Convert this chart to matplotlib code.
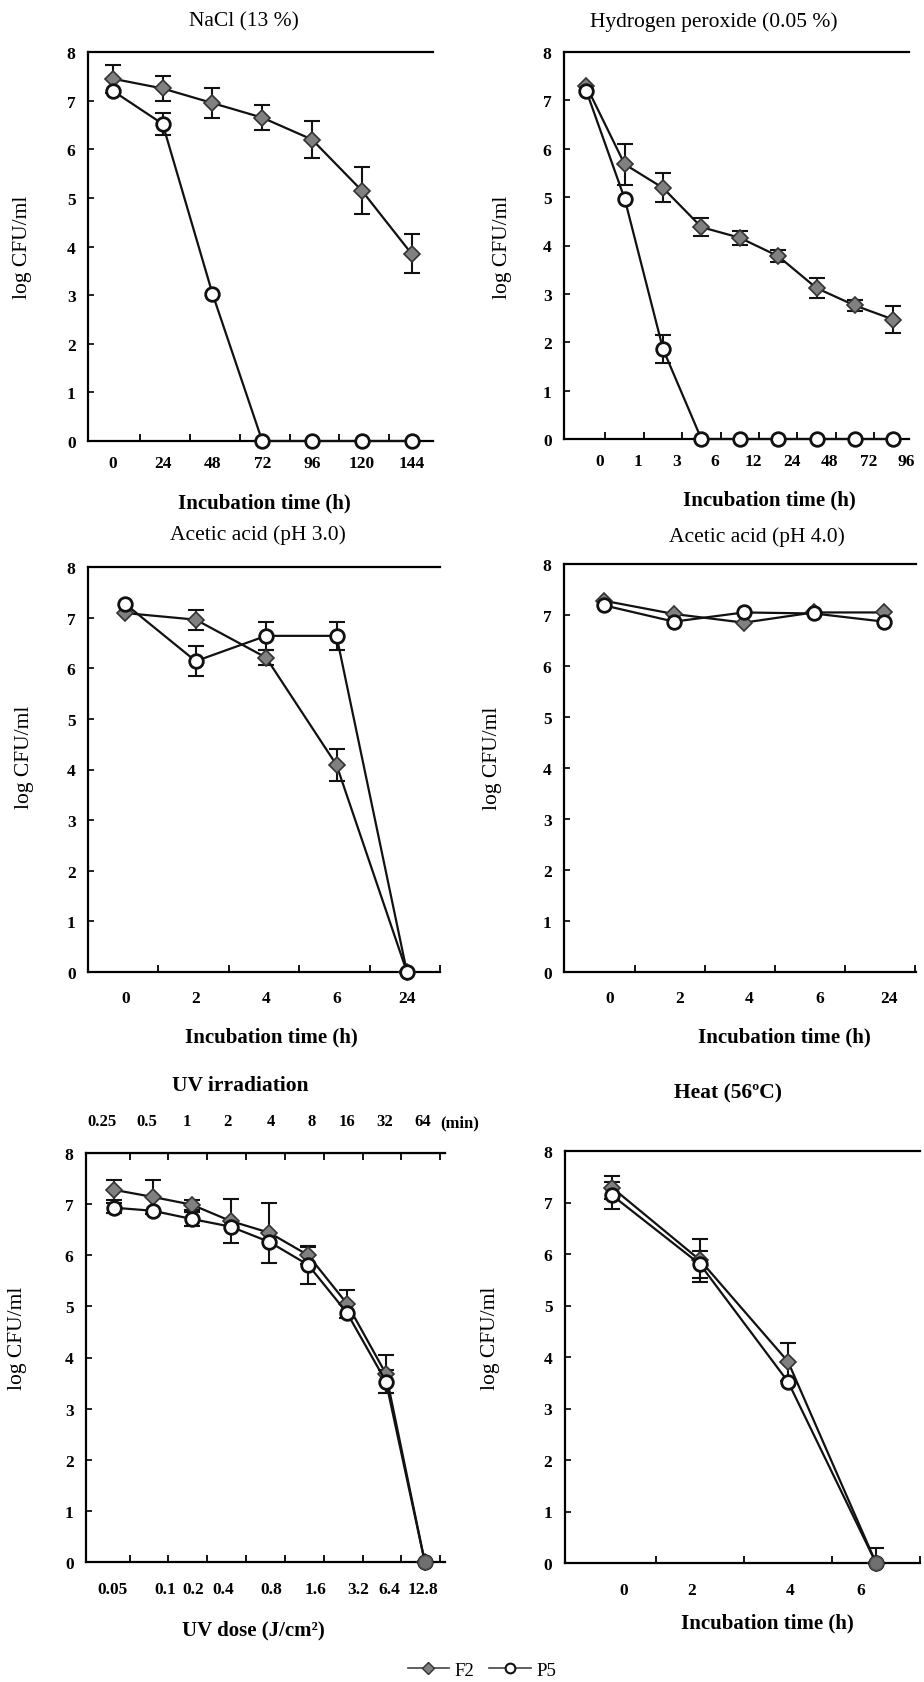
import numpy as np
import matplotlib
matplotlib.use("Agg")
import matplotlib.pyplot as plt
from matplotlib.lines import Line2D

plt.rcParams['font.family'] = ['Liberation Serif', 'DejaVu Serif']

# ---- data (log CFU/ml) ----
# NaCl (13 %)
nacl_time = ['0', '24', '48', '72', '96', '120', '144']
nacl_f2 = [7.45, 7.25, 6.95, 6.65, 6.2, 5.15, 3.85]
nacl_f2_err = [0.29, 0.25, 0.3, 0.26, 0.38, 0.48, 0.4]
nacl_p5 = [7.2, 6.52, 3.03, 0, 0, 0, 0]
nacl_p5_err = [0, 0.23, 0, 0, 0, 0, 0]

# Hydrogen peroxide (0.05 %)
h2o2_time = ['0', '1', '3', '6', '12', '24', '48', '72', '96']
h2o2_f2 = [7.3, 5.68, 5.19, 4.38, 4.16, 3.78, 3.12, 2.76, 2.47]
h2o2_f2_err = [0, 0.42, 0.3, 0.19, 0.15, 0.12, 0.2, 0.12, 0.27]
h2o2_p5 = [7.2, 4.97, 1.86, 0, 0, 0, 0, 0, 0]
h2o2_p5_err = [0, 0, 0.28, 0, 0, 0, 0, 0, 0]

# Acetic acid (pH 3.0)
ph3_time = ['0', '2', '4', '6', '24']
ph3_f2 = [7.09, 6.96, 6.21, 4.09, 0]
ph3_f2_err = [0, 0.2, 0.15, 0.32, 0]
ph3_p5 = [7.27, 6.14, 6.64, 6.64, 0]
ph3_p5_err = [0, 0.29, 0.27, 0.27, 0]

# Acetic acid (pH 4.0)
ph4_time = ['0', '2', '4', '6', '24']
ph4_f2 = [7.28, 7.02, 6.85, 7.05, 7.05]
ph4_p5 = [7.19, 6.87, 7.05, 7.03, 6.87]

# UV irradiation
uv_min = ['0.25', '0.5', '1', '2', '4', '8', '16', '32', '64']
uv_dose = ['0.05', '0.1', '0.2', '0.4', '0.8', '1.6', '3.2', '6.4', '12.8']
uv_f2 = [7.28, 7.14, 6.99, 6.67, 6.44, 6.0, 5.05, 3.68, 0]
uv_f2_err = [0.2, 0.34, 0.1, 0.43, 0.59, 0.17, 0.27, 0.37, 0]
uv_p5 = [6.93, 6.87, 6.71, 6.56, 6.26, 5.81, 4.87, 3.53, 0]
uv_p5_err = [0.1, 0, 0.14, 0, 0, 0.38, 0, 0.23, 0]

# Heat (56ºC)
heat_time = [0, 2, 4, 6]
heat_f2 = [7.29, 5.88, 3.91, 0]
heat_f2_err = [0.22, 0.42, 0.37, 0.3]
heat_p5 = [7.14, 5.80, 3.52, 0]
heat_p5_err = [0.26, 0.26, 0, 0]

# tick-label placement as printed (slightly irregular in the original)
uv_min_pos = [-0.31, 0.85, 1.88, 2.93, 4.04, 5.1, 6.0, 6.98, 7.95]
uv_dose_pos = [-0.05, 1.31, 2.03, 2.81, 4.04, 5.2, 6.28, 7.08, 7.95]
heat_label_pos = [0.27, 1.8, 4.05, 5.65]

W, H = 924, 1683
fig = plt.figure(figsize=(W / 100, H / 100), dpi=100)


def add_ax(left, right, top, bottom):
    return fig.add_axes([left / W, 1 - bottom / H, (right - left) / W, (bottom - top) / H])


def style(ax, xlim, minor, xpad):
    ax.set_xlim(*xlim)
    ax.set_ylim(0, 8)
    ax.set_yticks(range(9))
    ax.spines['right'].set_visible(False)
    for s in ['top', 'left', 'bottom']:
        ax.spines[s].set_linewidth(1.6)
    ax.tick_params(axis='y', direction='in', length=4, width=1.2, pad=9)
    ax.tick_params(axis='x', which='major', length=0, pad=xpad)
    ax.set_xticks(minor, minor=True)
    ax.tick_params(axis='x', which='minor', direction='in', length=5, width=1.3)
    for lab in ax.get_yticklabels() + ax.get_xticklabels():
        lab.set_fontsize(12.5)
        lab.set_fontweight('bold')


def errbars(ax, x, y, err):
    x = np.asarray(x, float)
    y = np.asarray(y, float)
    err = np.asarray(err, float)
    m = err > 0
    if m.any():
        ax.errorbar(x[m], y[m], yerr=err[m], fmt='none', ecolor='#111111',
                    elinewidth=1.5, capsize=5.5, capthick=1.5, zorder=2)


def draw(ax, x, f2, f2e, p5, p5e):
    if f2e is not None:
        errbars(ax, x, f2, f2e)
    if p5e is not None:
        errbars(ax, x, p5, p5e)
    ax.plot(x, f2, '-', color='#111111', lw=1.6, marker='D', ms=8.5,
            mfc='#808080', mec='#333333', mew=1.2, zorder=3, clip_on=False)
    ax.plot(x, p5, '-', color='#111111', lw=1.6, marker='o', ms=9.8,
            mfc='white', mec='#111111', mew=2.0, zorder=4, clip_on=False)


def txt(x, y, s, size=15.5, **kw):
    fig.text(x / W, 1 - y / H, s, ha='center', va='center', fontsize=size, **kw)


ylab = 'log CFU/ml'
xlab = 'Incubation time (h)'

# Panel 1: NaCl
ax = add_ax(88, 433, 53, 442)
x = np.arange(len(nacl_time))
draw(ax, x, nacl_f2, nacl_f2_err, nacl_p5, nacl_p5_err)
ax.set_xticks(x, nacl_time)
style(ax, (-0.5, len(x) - 0.57), x[:-1] + 0.55, 10)
txt(244, 22, 'NaCl (13 %)')
txt(264, 503, xlab, 15, fontweight='bold')
txt(23, 247, ylab, rotation=90)

# Panel 2: H2O2
ax = add_ax(564, 909, 53, 440)
x = np.arange(len(h2o2_time))
draw(ax, x, h2o2_f2, h2o2_f2_err, h2o2_p5, h2o2_p5_err)
ax.set_xticks(x + 0.35, h2o2_time)
style(ax, (-0.58, len(x) - 0.59), x[:-1] + 0.5, 10)
txt(714, 22, 'Hydrogen peroxide (0.05 %)')
txt(769, 500, xlab, 15, fontweight='bold')
txt(502, 247, ylab, rotation=90)

# Panel 3: Acetic acid pH 3.0
ax = add_ax(88, 440, 568, 973)
x = np.arange(len(ph3_time))
draw(ax, x, ph3_f2, ph3_f2_err, ph3_p5, ph3_p5_err)
ax.set_xticks(x, ph3_time)
style(ax, (-0.53, len(x) - 0.56), x + 0.47, 13)
txt(258, 535, 'Acetic acid (pH 3.0)')
txt(271, 1037, xlab, 15, fontweight='bold')
txt(25, 757, ylab, rotation=90)

# Panel 4: Acetic acid pH 4.0
ax = add_ax(564, 916, 565, 973)
x = np.arange(len(ph4_time))
draw(ax, x, ph4_f2, None, ph4_p5, None)
ax.set_xticks(x + 0.08, ph4_time)
style(ax, (-0.57, len(x) - 0.54), x + 0.44, 13)
txt(757, 537, 'Acetic acid (pH 4.0)')
txt(784, 1037, xlab, 15, fontweight='bold')
txt(493, 758, ylab, rotation=90)

# Panel 5: UV irradiation
ax = add_ax(86, 445, 1154, 1563)
x = np.arange(len(uv_dose))
draw(ax, x, uv_f2, uv_f2_err, uv_p5, uv_p5_err)
ax.plot(x[-1], uv_f2[-1], 'o', ms=9.8, mfc='#707070', mec='#505050', zorder=5, clip_on=False)
ax.set_xticks(uv_dose_pos, uv_dose)
style(ax, (-0.72, 8.52), x + 0.4, 14)
top = ax.secondary_xaxis('top')
top.set_xticks(uv_min_pos, uv_min)
top.set_xticks(x + 0.4, minor=True)
top.tick_params(which='major', length=0, pad=17)
top.tick_params(which='minor', direction='in', length=5, width=1.3)
for lab in top.get_xticklabels():
    lab.set_fontsize(12)
    lab.set_fontweight('bold')
ax.text(1.042, 1.076, '(min)', transform=ax.transAxes, ha='center', va='center',
        fontsize=12, fontweight='bold')
txt(240, 1086, 'UV irradiation', fontweight='bold')
txt(253, 1630, 'UV dose (J/cm²)', 15, fontweight='bold')
txt(18, 1338, ylab, rotation=90)

# Panel 6: Heat
ax = add_ax(565, 920, 1152, 1564)
x = np.asarray(heat_time, float)
draw(ax, x, heat_f2, heat_f2_err, heat_p5, heat_p5_err)
ax.plot(x[-1], heat_f2[-1], 'o', ms=9.8, mfc='#707070', mec='#505050', zorder=5, clip_on=False)
ax.set_xticks(heat_label_pos, [str(t) for t in heat_time])
style(ax, (-1.07, 6.98), x + 1, 14)
txt(728, 1093, 'Heat (56ºC)', fontweight='bold')
txt(767, 1623, xlab, 15, fontweight='bold')
txt(491, 1338, ylab, rotation=90)

# legend
handles = [
    Line2D([], [], color='#444444', lw=1.2, marker='D', ms=6, mfc='#808080', mec='#333333'),
    Line2D([], [], color='#444444', lw=1.2, marker='o', ms=7, mfc='white', mec='#111111', mew=1.5),
]
fig.legend(handles, ['F2', 'P5'], loc='center', bbox_to_anchor=(482 / W, 1 - 1671 / H),
           ncol=2, frameon=False, fontsize=13.5, handlelength=2.2, handletextpad=0.3,
           columnspacing=0.8, borderpad=0.1)

fig.savefig('out.png', dpi=100)
